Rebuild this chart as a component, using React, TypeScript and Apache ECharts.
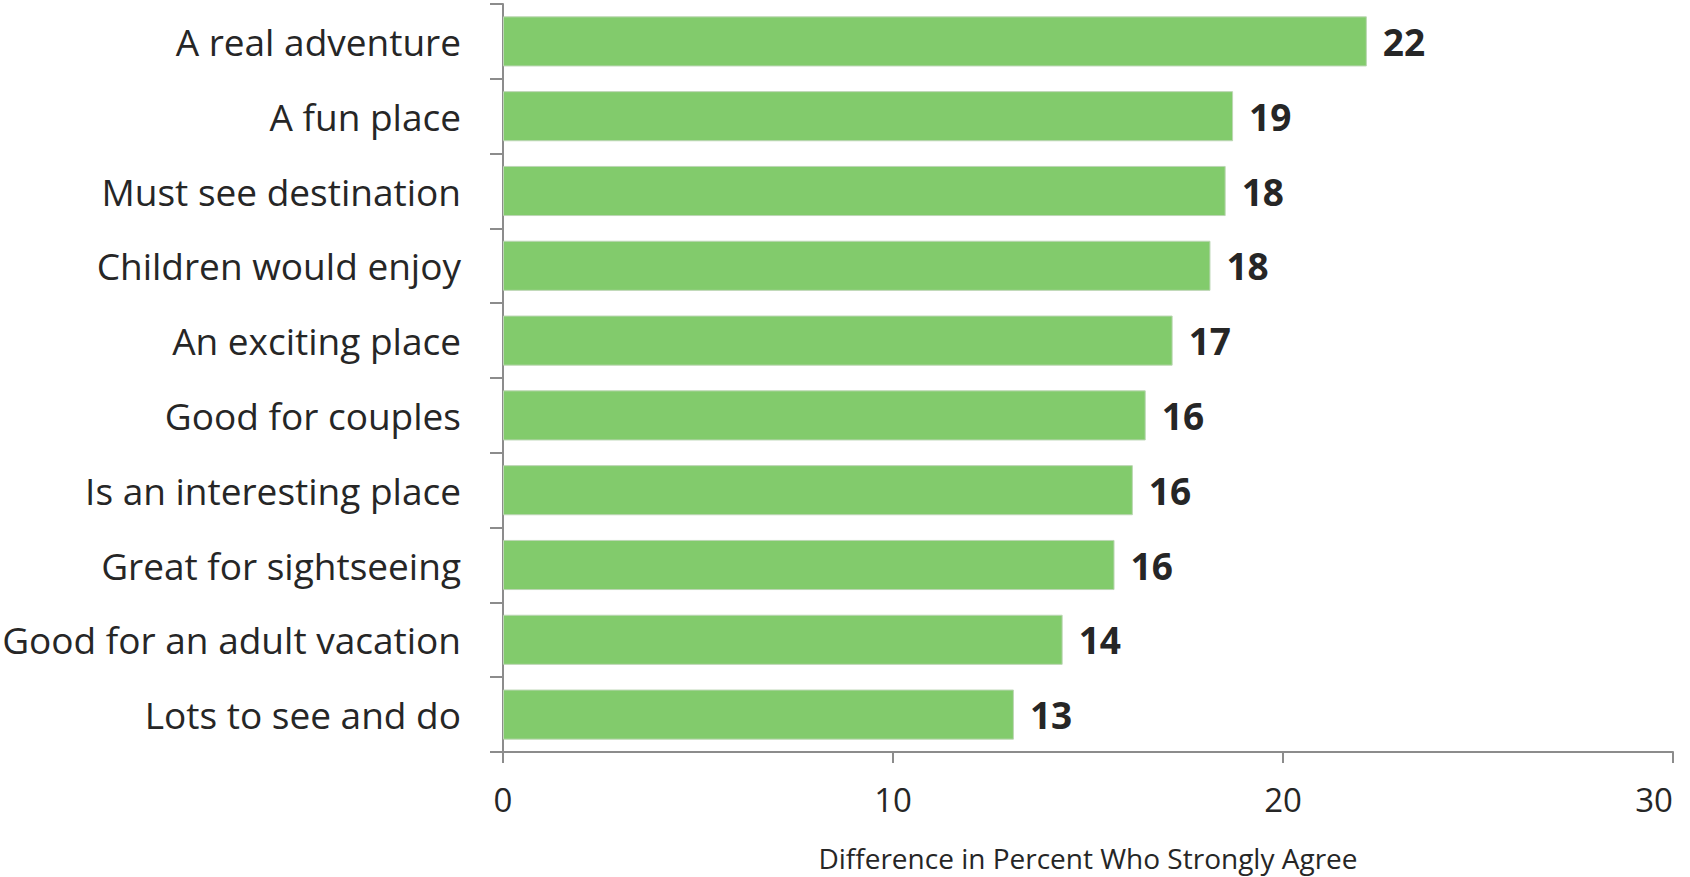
import React, { useEffect, useRef } from "react";
import * as echarts from "echarts";

const categories = [
  "A real adventure",
  "A fun place",
  "Must see destination",
  "Children would enjoy",
  "An exciting place",
  "Good for couples",
  "Is an interesting place",
  "Great for sightseeing",
  "Good for an adult vacation",
  "Lots to see and do",
];
const values = [22.15, 18.72, 18.53, 18.14, 17.17, 16.48, 16.15, 15.68, 14.35, 13.1];
const valueLabels = ["22", "19", "18", "18", "17", "16", "16", "16", "14", "13"];
const xTicks = [0, 10, 20, 30];
const xTitle = "Difference in Percent Who Strongly Agree";

export default function App() {
  const ref = useRef<HTMLDivElement>(null);
  useEffect(() => {
    document.body.style.margin = "0";
    if (!ref.current) return;
    const chart = echarts.init(ref.current, null, { renderer: "svg" });
    const font = "'Open Sans', sans-serif";
    chart.setOption({
      animation: false,
      grid: {
        left: 503,
        right: 17,
        top: 4,
        bottom: 125,
        containLabel: false,
        outerBoundsMode: "none",
      },
      xAxis: {
        type: "value",
        min: xTicks[0],
        max: xTicks[xTicks.length - 1],
        interval: 10,
        splitLine: { show: false },
        axisLine: { show: true, lineStyle: { color: "#8c8c8c", width: 2 } },
        axisTick: { show: true, length: 11, lineStyle: { color: "#8c8c8c", width: 2 } },
        axisLabel: {
          color: "#262626",
          fontSize: 33,
          fontFamily: font,
          margin: 31,
          formatter: (v: number) => String(v),
          alignMaxLabel: "right",
        },
        name: xTitle,
        nameLocation: "middle",
        nameGap: 92,
        nameTextStyle: { color: "#262626", fontSize: 28, fontFamily: font },
      },
      yAxis: {
        type: "category",
        data: categories,
        inverse: true,
        axisLine: { show: true, lineStyle: { color: "#8c8c8c", width: 2 } },
        axisTick: { show: true, length: 13, lineStyle: { color: "#8c8c8c", width: 2 } },
        axisLabel: { color: "#262626", fontSize: 37, fontFamily: font, margin: 42 },
      },
      series: [
        {
          type: "bar",
          data: values,
          barCategoryGap: "33%",
          itemStyle: { color: "#82cb6c", borderColor: "#bcd6b4", borderWidth: 1 },
          label: {
            show: true,
            position: "right",
            distance: 16,
            color: "#262626",
            fontSize: 37,
            fontWeight: "bold",
            fontFamily: font,
            formatter: (p: any) => valueLabels[p.dataIndex],
          },
        },
      ],
    });
    return () => chart.dispose();
  }, []);
  return <div ref={ref} style={{ width: 1690, height: 877 }} />;
}
